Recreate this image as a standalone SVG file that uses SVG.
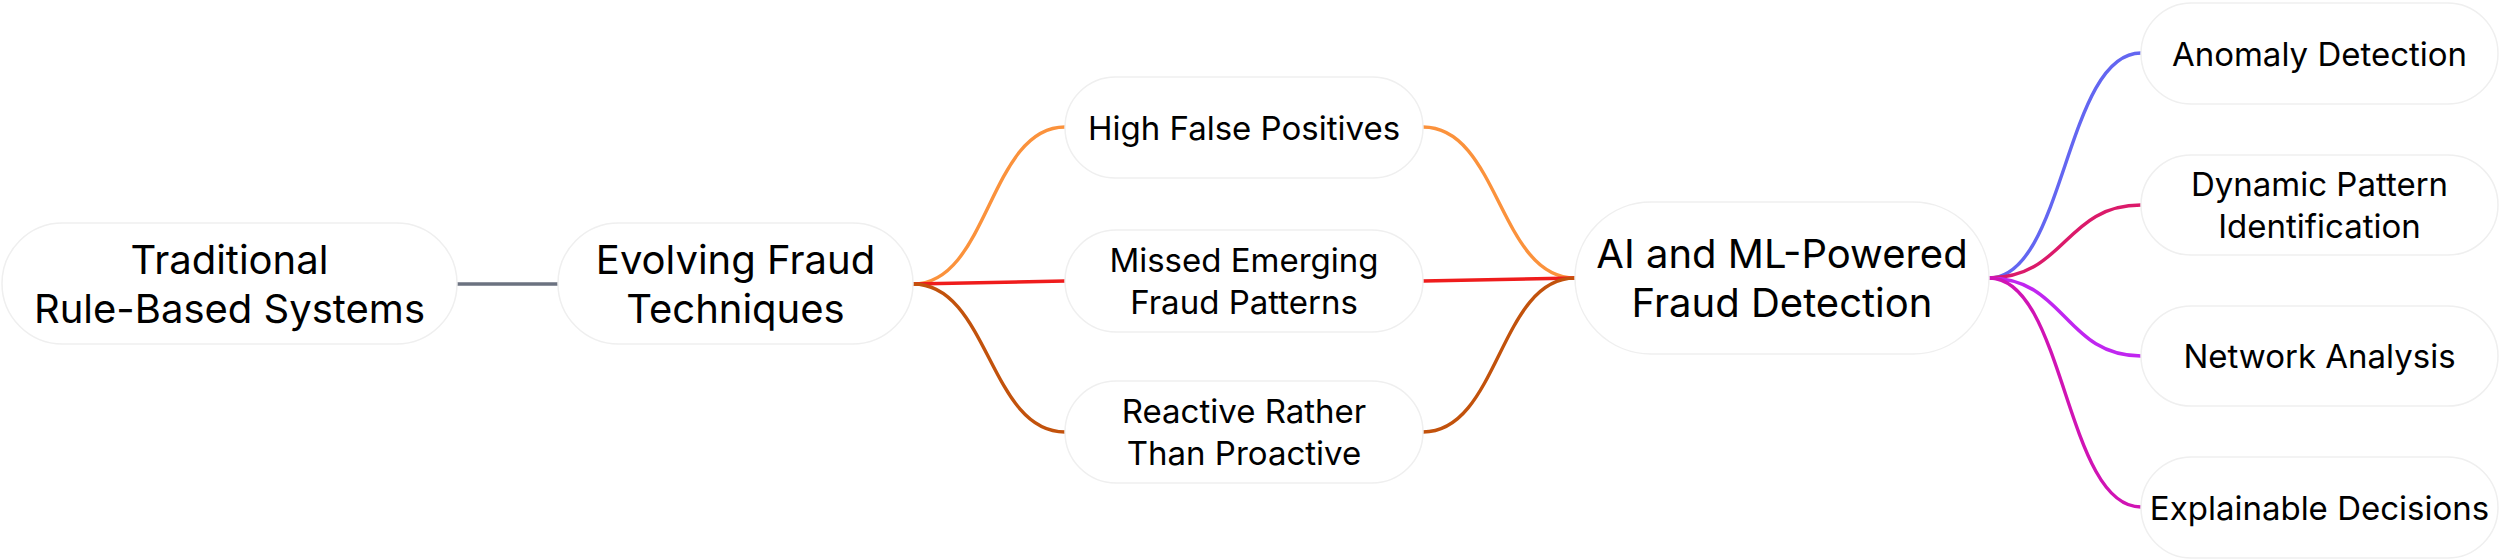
<svg xmlns="http://www.w3.org/2000/svg" width="2500" height="560" viewBox="0 0 2500 560">
<style>
.node rect{fill:#ffffff;stroke:#efefef;stroke-width:1.5}
.node text{font-family:Inter,"Liberation Sans",sans-serif;fill:#000;text-anchor:middle}
.big{font-size:40px}
.small{font-size:33px}
.edge{fill:none;stroke-width:3.4;stroke-linecap:round}
</style>
<rect width="2500" height="560" fill="#ffffff"/>
<g id="connectors">
<path class="edge" stroke="#6b7280" d="M457 284 L558 284"/>
<path class="edge" stroke="#fb923c" d="M913 284 C989 284 989 127 1065 127"/>
<path class="edge" stroke="#ef1c1c" d="M913 284 L1065 281"/>
<path class="edge" stroke="#c2520c" d="M913 284 C989 284 989 432 1065 432"/>
<path class="edge" stroke="#fb923c" d="M1423 127 C1499 127 1499 278 1575 278"/>
<path class="edge" stroke="#ef1c1c" d="M1423 281 L1575 278"/>
<path class="edge" stroke="#c2520c" d="M1423 432 C1499 432 1499 278 1575 278"/>
<path class="edge" stroke="#6366f1" d="M1989 278 C2065 278 2065 53 2141 53"/>
<path class="edge" stroke="#db1a6a" d="M1989 278 C2065 278 2065 205 2141 205"/>
<path class="edge" stroke="#c026f0" d="M1989 278 C2065 278 2065 356 2141 356"/>
<path class="edge" stroke="#d014b4" d="M1989 278 C2065 278 2065 507 2141 507"/>
</g>
<g id="n-traditional" class="node">
<rect x="2" y="223" width="455" height="121" rx="60.5"/>
<text class="big" x="229.5" y="274">Traditional</text>
<text class="big" x="229.5" y="323">Rule-Based Systems</text>
</g>
<g id="n-evolving" class="node">
<rect x="558" y="223" width="355" height="121" rx="60.5"/>
<text class="big" x="735.5" y="274">Evolving Fraud</text>
<text class="big" x="735.5" y="323">Techniques</text>
</g>
<g id="n-highfalse" class="node">
<rect x="1065" y="77" width="358" height="101" rx="50.5"/>
<text class="small" x="1244" y="139.5">High False Positives</text>
</g>
<g id="n-missed" class="node">
<rect x="1065" y="230" width="358" height="102" rx="51"/>
<text class="small" x="1244" y="272">Missed Emerging</text>
<text class="small" x="1244" y="314">Fraud Patterns</text>
</g>
<g id="n-reactive" class="node">
<rect x="1065" y="381" width="358" height="102" rx="51"/>
<text class="small" x="1244" y="423">Reactive Rather</text>
<text class="small" x="1244" y="465">Than Proactive</text>
</g>
<g id="n-ai" class="node">
<rect x="1575" y="202" width="414" height="152" rx="76"/>
<text class="big" x="1782" y="268">AI and ML-Powered</text>
<text class="big" x="1782" y="317">Fraud Detection</text>
</g>
<g id="n-anomaly" class="node">
<rect x="2141" y="3" width="357" height="101" rx="50.5"/>
<text class="small" x="2319.5" y="65.5">Anomaly Detection</text>
</g>
<g id="n-dynamic" class="node">
<rect x="2141" y="155" width="357" height="100" rx="50"/>
<text class="small" x="2319.5" y="196">Dynamic Pattern</text>
<text class="small" x="2319.5" y="238">Identification</text>
</g>
<g id="n-network" class="node">
<rect x="2141" y="306" width="357" height="100" rx="50"/>
<text class="small" x="2319.5" y="368">Network Analysis</text>
</g>
<g id="n-explainable" class="node">
<rect x="2141" y="457" width="357" height="101" rx="50.5"/>
<text class="small" x="2319.5" y="519.5">Explainable Decisions</text>
</g>
</svg>
